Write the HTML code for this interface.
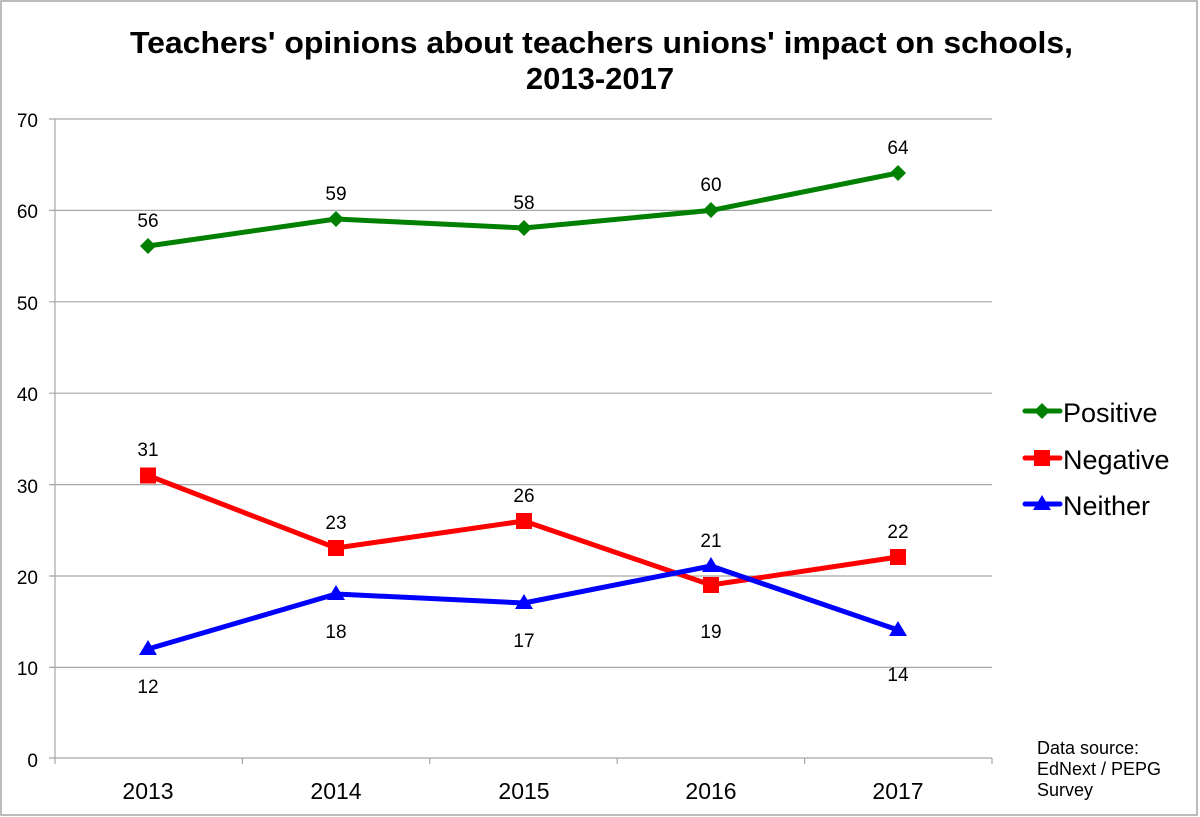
<!DOCTYPE html>
<html><head><meta charset="utf-8"><style>
html,body{margin:0;padding:0;background:#fff}
svg{display:block;font-family:"Liberation Sans",Arial,sans-serif}
</style></head><body>
<svg width="1200" height="817" viewBox="0 0 1200 817" xmlns="http://www.w3.org/2000/svg">
<rect x="1" y="1" width="1196" height="814" fill="#fff" stroke="#a6a6a6" stroke-width="1.5"/>
<text x="130" y="53" font-size="31" font-weight="bold" textLength="943" lengthAdjust="spacingAndGlyphs">Teachers' opinions about teachers unions' impact on schools,</text>
<text x="600" y="89" font-size="31" font-weight="bold" text-anchor="middle">2013-2017</text>
<g stroke="#a6a6a6" stroke-width="1.2">
<line x1="49" y1="119" x2="992" y2="119"/>
<line x1="49" y1="210.4" x2="992" y2="210.4"/>
<line x1="49" y1="301.8" x2="992" y2="301.8"/>
<line x1="49" y1="393.2" x2="992" y2="393.2"/>
<line x1="49" y1="484.6" x2="992" y2="484.6"/>
<line x1="49" y1="576" x2="992" y2="576"/>
<line x1="49" y1="667.4" x2="992" y2="667.4"/>
<line x1="49" y1="758" x2="992" y2="758"/>
<line x1="55" y1="119" x2="55" y2="764"/>
<line x1="242.4" y1="758" x2="242.4" y2="764"/>
<line x1="429.8" y1="758" x2="429.8" y2="764"/>
<line x1="617.2" y1="758" x2="617.2" y2="764"/>
<line x1="804.6" y1="758" x2="804.6" y2="764"/>
<line x1="992" y1="758" x2="992" y2="764"/>
</g>
<g font-size="19" text-anchor="end">
<text x="38" y="127">70</text><text x="38" y="218">60</text><text x="38" y="310">50</text>
<text x="38" y="401">40</text><text x="38" y="493">30</text><text x="38" y="584">20</text>
<text x="38" y="675">10</text><text x="38" y="767">0</text>
</g>
<g font-size="23" text-anchor="middle">
<text x="148" y="799">2013</text><text x="336" y="799">2014</text><text x="524" y="799">2015</text>
<text x="711" y="799">2016</text><text x="898" y="799">2017</text>
</g>
<polyline points="148,246 336,219 524,228 711,210.4 898,173" fill="none" stroke="#008000" stroke-width="5" stroke-linejoin="round"/>
<g fill="#008000">
<polygon points="148,238 156,246 148,254 140,246"/><polygon points="336,211 344,219 336,227 328,219"/>
<polygon points="524,220 532,228 524,236 516,228"/><polygon points="711,202 719,210 711,218 703,210"/>
<polygon points="898,165 906,173 898,181 890,173"/>
</g>
<polyline points="148,475.5 336,548 524,521 711,585 898,557" fill="none" stroke="#ff0000" stroke-width="5" stroke-linejoin="round"/>
<g fill="#ff0000">
<rect x="140" y="467.5" width="16" height="16"/><rect x="328" y="540" width="16" height="16"/>
<rect x="516" y="513" width="16" height="16"/><rect x="703" y="577" width="16" height="16"/>
<rect x="890" y="549" width="16" height="16"/>
</g>
<polyline points="148,649 336,594 524,603 711,566 898,630" fill="none" stroke="#0000ff" stroke-width="5" stroke-linejoin="round"/>
<g fill="#0000ff">
<polygon points="148,640 157,655 139,655"/><polygon points="336,585 345,600 327,600"/>
<polygon points="524,594 533,609 515,609"/><polygon points="711,557 720,572 702,572"/>
<polygon points="898,621 907,636 889,636"/>
</g>
<g font-size="19" text-anchor="middle">
<text x="148" y="227">56</text><text x="336" y="200">59</text><text x="524" y="209">58</text>
<text x="711" y="191">60</text><text x="898" y="154">64</text>
<text x="148" y="456">31</text><text x="336" y="529">23</text><text x="524" y="502">26</text>
<text x="711" y="638">19</text><text x="898" y="538">22</text>
<text x="148" y="693">12</text><text x="336" y="638">18</text><text x="524" y="647">17</text>
<text x="711" y="547">21</text><text x="898" y="681">14</text>
</g>
<g stroke-width="5" stroke-linecap="round">
<line x1="1025" y1="411" x2="1060" y2="411" stroke="#008000"/>
<line x1="1025" y1="458" x2="1060" y2="458" stroke="#ff0000"/>
<line x1="1025" y1="504" x2="1060" y2="504" stroke="#0000ff"/>
</g>
<polygon points="1042,403 1050,411 1042,419 1034,411" fill="#008000"/>
<rect x="1034" y="450" width="16" height="16" fill="#ff0000"/>
<polygon points="1042,495 1051,510 1033,510" fill="#0000ff"/>
<g font-size="27">
<text x="1063" y="422">Positive</text><text x="1063" y="469">Negative</text><text x="1063" y="515">Neither</text>
</g>
<g font-size="18">
<text x="1037" y="754">Data source:</text><text x="1037" y="775">EdNext / PEPG</text><text x="1037" y="796">Survey</text>
</g>
</svg>
</body></html>
